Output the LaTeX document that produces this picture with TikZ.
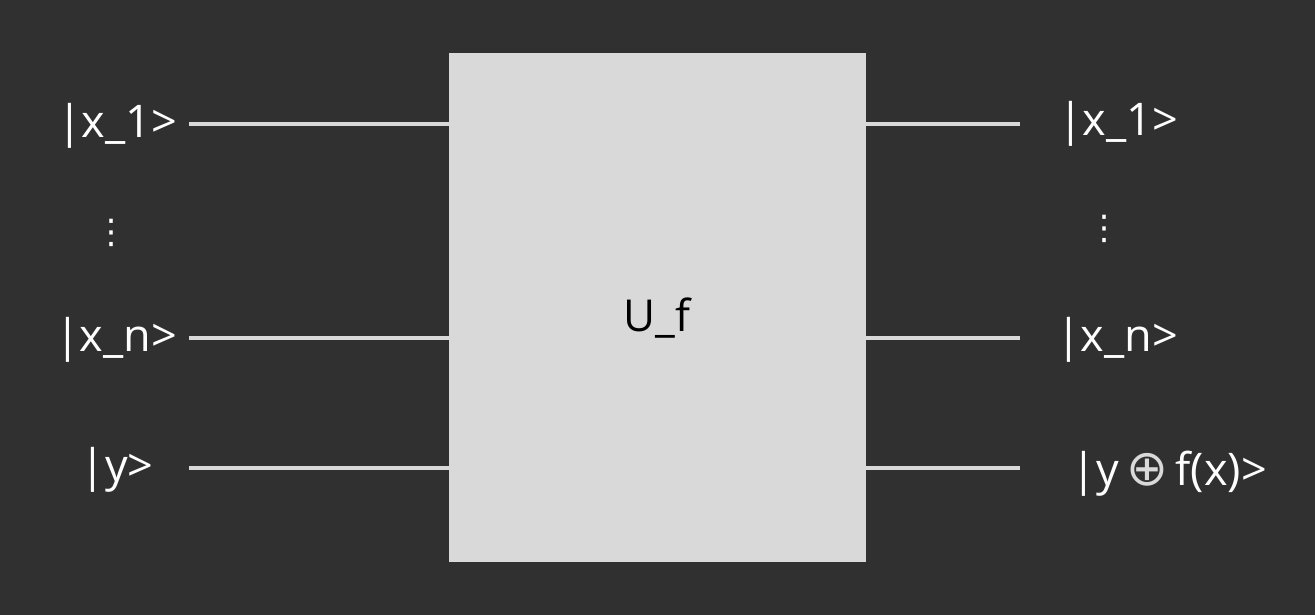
\documentclass[tikz,border=0pt]{standalone}
\usepackage{fontspec}
\setmainfont{Open Sans}
\newfontfamily\symfont{DejaVu Sans}
\definecolor{bg}{HTML}{303030}
\definecolor{lite}{HTML}{D9D9D9}
\begin{document}
\begin{tikzpicture}[x=1pt,y=-1pt,
  lbl/.style={text=white,font=\fontsize{45}{50}\selectfont,inner sep=0pt,anchor=center},
  wire/.style={draw=lite,line width=3.5pt},
  vdots/.style={text=white,font=\symfont\fontsize{34}{38}\selectfont,inner sep=0pt}]
\fill[bg] (0,0) rectangle (1315,615);
\useasboundingbox (0,0) rectangle (1315,615);
\node[fill=lite,minimum width=417pt,minimum height=509pt,inner sep=0pt,anchor=north west] (box) at (449,53) {};
\node[text=black,font=\fontsize{44}{48}\selectfont,inner sep=0pt] (uf) at (657,318) {U\_f};
% left labels
\node[lbl] (lx1) at (117,126) {|x\_1>};
\node[vdots] (ld) at (111,233) {⋮};
\node[lbl] (lxn) at (116,340) {|x\_n>};
\node[lbl] (ly) at (117,470) {|y>};
% right labels
\node[lbl] (rx1) at (1118,124) {|x\_1>};
\node[vdots] (rd) at (1104,229) {⋮};
\node[lbl] (rxn) at (1117,340) {|x\_n>};
\node[lbl] (ry) at (1169,474) {|y\,{\color{lite}\symfont\fontsize{50}{54}\selectfont ⊕}\,f(x)>};
% wire end points
\coordinate (a1) at (189,124);
\coordinate (an) at (189,338);
\coordinate (ay) at (189,468);
\coordinate (b1) at (1020,124);
\coordinate (bn) at (1020,338);
\coordinate (by) at (1020,468);
\draw[wire] (a1) -- (a1 -| box.west);
\draw[wire] (an) -- (an -| box.west);
\draw[wire] (ay) -- (ay -| box.west);
\draw[wire] (b1 -| box.east) -- (b1);
\draw[wire] (bn -| box.east) -- (bn);
\draw[wire] (by -| box.east) -- (by);
\end{tikzpicture}
\end{document}
